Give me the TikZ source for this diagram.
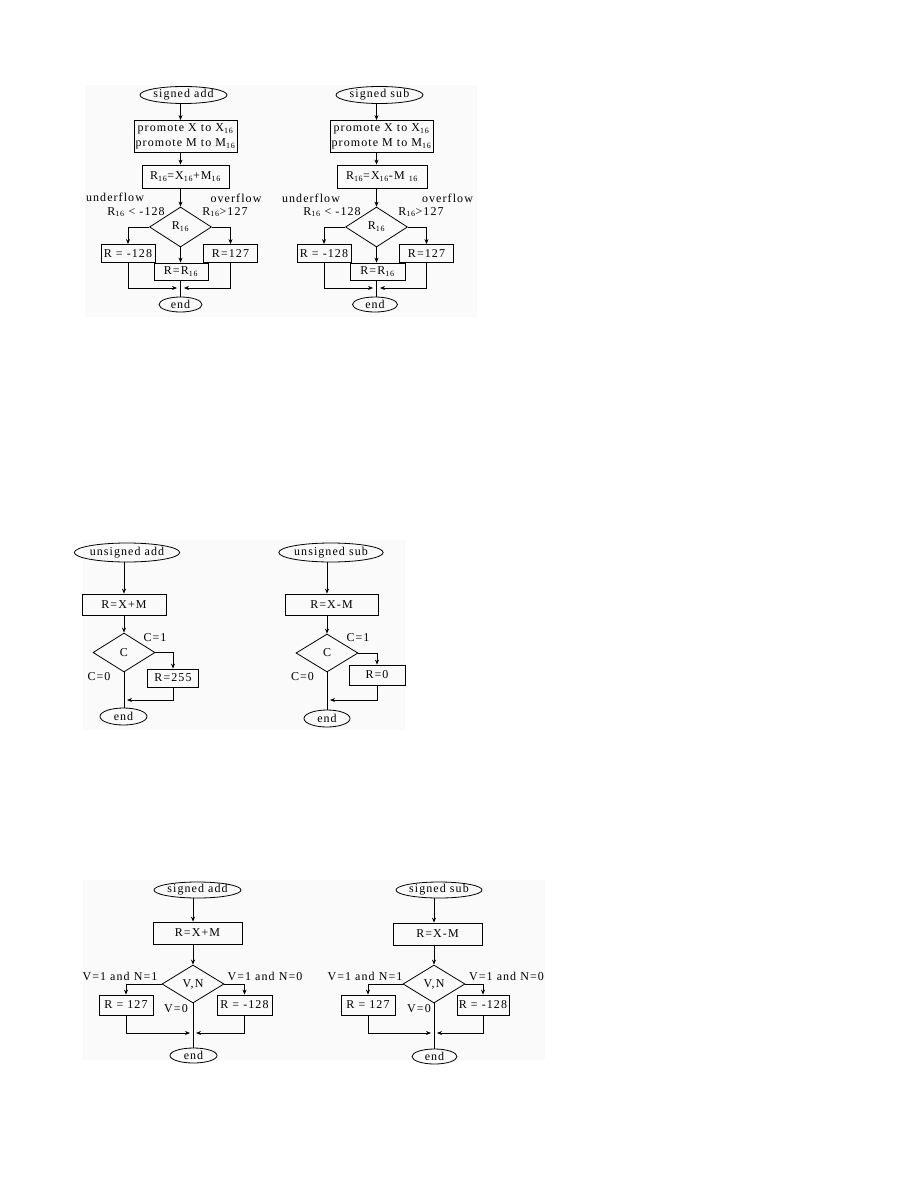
\documentclass[tikz,border=0pt]{standalone}
\usepackage{fontspec}
\setmainfont{Liberation Serif}[LetterSpace=9]
\usetikzlibrary{shapes.geometric,arrows.meta}
\begin{document}
\begin{tikzpicture}[x=1pt,y=-1pt,line width=0.8pt,
  every node/.style={font=\fontsize{12}{14.5}\selectfont, inner sep=0pt},
  term/.style={ellipse, draw},
  proc/.style={rectangle, draw, align=center},
  dec/.style={diamond, draw},
  arr/.style={-{Stealth[length=5pt,width=4pt]}},
  bg/.style={fill=black!2}]
\useasboundingbox (0,0) rectangle (918,1188);
% faint panel backgrounds
\fill[bg] (85,85) rectangle (477,317);
\fill[bg] (83,540) rectangle (405,730);
\fill[bg] (83,880) rectangle (545,1060);

% ===== Panel 1 left: signed add =====
\node[term, minimum width=87, minimum height=17] (a1s) at (183.5,95) {signed add};
\node[proc, minimum width=103, minimum height=32] (a1p) at (185.5,136.5) {promote X to X\textsubscript{16}\\promote M to M\textsubscript{16}};
\node[proc, minimum width=87, minimum height=23] (a1r) at (185.5,176.5) {R\textsubscript{16}=X\textsubscript{16}+M\textsubscript{16}};
\node[dec, minimum width=62, minimum height=40] (a1d) at (180.5,227) {R\textsubscript{16}};
\node[proc, minimum width=54, minimum height=18] (a1u) at (128,253.5) {R = -128};
\node[proc, minimum width=54, minimum height=18] (a1o) at (230.5,253.5) {R=127};
\node[proc, minimum width=54, minimum height=17] (a1m) at (181,271.5) {R=R\textsubscript{16}};
\node[term, minimum width=43, minimum height=15] (a1e) at (180.5,304.5) {end};
\node (a1l1) at (115,197) {underflow};
\node (a1l2) at (136,212) {R\textsubscript{16} < -128};
\node (a1l3) at (236,198) {overflow};
\node (a1l4) at (225,212) {R\textsubscript{16}>127};
\coordinate (a1jl) at (177,288);
\coordinate (a1jr) at (184,288);
\draw[arr] (a1d.north |- a1s.south) -- (a1d.north |- a1p.north);
\draw[arr] (a1d.north |- a1p.south) -- (a1d.north |- a1r.north);
\draw[arr] (a1d.north |- a1r.south) -- (a1d.north);
\draw[arr] (a1d.west) -| (a1u.north);
\draw[arr] (a1d.east) -| (a1o.north);
\draw[arr] (a1d.south) -- (a1d.south |- a1m.north);
\draw (a1d.south |- a1m.south) -- (a1d.south |- a1e.north);
\draw[arr] (a1u.south) |- (a1jl);
\draw[arr] (a1o.south) |- (a1jr);

% ===== Panel 1 right: signed sub =====
\node[term, minimum width=87, minimum height=17] (b1s) at (379.5,95) {signed sub};
\node[proc, minimum width=103, minimum height=32] (b1p) at (381.5,136.5) {promote X to X\textsubscript{16}\\promote M to M\textsubscript{16}};
\node[proc, minimum width=90, minimum height=23] (b1r) at (382,176.5) {R\textsubscript{16}=X\textsubscript{16}-M \textsubscript{16}};
\node[dec, minimum width=62, minimum height=40] (b1d) at (376.5,227) {R\textsubscript{16}};
\node[proc, minimum width=54, minimum height=18] (b1u) at (324,253.5) {R = -128};
\node[proc, minimum width=54, minimum height=18] (b1o) at (426.5,253.5) {R=127};
\node[proc, minimum width=55, minimum height=17] (b1m) at (377.5,271.5) {R=R\textsubscript{16}};
\node[term, minimum width=45, minimum height=15] (b1e) at (375,304.5) {end};
\node (b1l1) at (311,198) {underflow};
\node (b1l2) at (332,212) {R\textsubscript{16} < -128};
\node (b1l3) at (447.5,198) {overflow};
\node (b1l4) at (421,212) {R\textsubscript{16}>127};
\coordinate (b1jl) at (373,288);
\coordinate (b1jr) at (380,288);
\draw[arr] (b1d.north |- b1s.south) -- (b1d.north |- b1p.north);
\draw[arr] (b1d.north |- b1p.south) -- (b1d.north |- b1r.north);
\draw[arr] (b1d.north |- b1r.south) -- (b1d.north);
\draw[arr] (b1d.west) -| (b1u.north);
\draw[arr] (b1d.east) -| (b1o.north);
\draw[arr] (b1d.south) -- (b1d.south |- b1m.north);
\draw (b1d.south |- b1m.south) -- (b1d.south |- b1e.north);
\draw[arr] (b1u.south) |- (b1jl);
\draw[arr] (b1o.south) |- (b1jr);

% ===== Panel 2 left: unsigned add =====
\node[term, minimum width=86, minimum height=19] (c1s) at (127,552.5) {unsigned add};
\node[proc, minimum width=84, minimum height=21] (c1r) at (124,604.5) {R=X+M};
\node[dec, minimum width=62, minimum height=39] (c1d) at (124,652.5) {C};
\node[proc, minimum width=51, minimum height=18] (c1o) at (173,678) {R=255};
\node[term, minimum width=47, minimum height=17] (c1e) at (123.5,716.5) {end};
\node (c1l1) at (155,638) {C=1};
\node (c1l2) at (99,676.5) {C=0};
\coordinate (c1j) at (127,700);
\draw[arr] (c1d.north |- c1s.south) -- (c1d.north |- c1r.north);
\draw[arr] (c1d.north |- c1r.south) -- (c1d.north);
\draw[arr] (c1d.east) -| (c1o.north);
\draw (c1d.south) -- (c1d.south |- c1e.north);
\draw[arr] (c1o.south) |- (c1j);

% ===== Panel 2 right: unsigned sub =====
\node[term, minimum width=88, minimum height=19] (d1s) at (331,552.5) {unsigned sub};
\node[proc, minimum width=93, minimum height=21] (d1r) at (331.5,604.5) {R=X-M};
\node[dec, minimum width=62, minimum height=38] (d1d) at (327,653) {C};
\node[proc, minimum width=56, minimum height=20] (d1o) at (377,675) {R=0};
\node[term, minimum width=46, minimum height=17] (d1e) at (327,718.5) {end};
\node (d1l1) at (358,638) {C=1};
\node (d1l2) at (302.5,677) {C=0};
\coordinate (d1j) at (330,700);
\draw[arr] (d1d.north |- d1s.south) -- (d1d.north |- d1r.north);
\draw[arr] (d1d.north |- d1r.south) -- (d1d.north);
\draw[arr] (d1d.east) -| (d1o.north);
\draw (d1d.south) -- (d1d.south |- d1e.north);
\draw[arr] (d1o.south) |- (d1j);

% ===== Panel 3 left: signed add =====
\node[term, minimum width=87, minimum height=16] (e1s) at (197.5,890) {signed add};
\node[proc, minimum width=89, minimum height=22] (e1r) at (197.5,933) {R=X+M};
\node[dec, minimum width=62, minimum height=38] (e1d) at (193,984) {V,N};
\node[proc, minimum width=54, minimum height=20] (e1l) at (126,1005) {R = 127};
\node[proc, minimum width=55, minimum height=20] (e1g) at (244.5,1005) {R = -128};
\node[term, minimum width=47, minimum height=15] (e1e) at (193.5,1055.5) {end};
\node (e1l1) at (120,976) {V=1 and N=1};
\node (e1l2) at (265,976) {V=1 and N=0};
\node (e1l3) at (176,1009) {V=0};
\coordinate (e1jl) at (190,1033);
\coordinate (e1jr) at (196,1033);
\draw[arr] (e1d.north |- e1s.south) -- (e1d.north |- e1r.north);
\draw[arr] (e1d.north |- e1r.south) -- (e1d.north);
\draw[arr] (e1d.west) -| (e1l.north);
\draw[arr] (e1d.east) -| (e1g.north);
\draw (e1d.south) -- (e1d.south |- e1e.north);
\draw[arr] (e1l.south) |- (e1jl);
\draw[arr] (e1g.south) |- (e1jr);

% ===== Panel 3 right: signed sub =====
\node[term, minimum width=86, minimum height=16] (f1s) at (439,890) {signed sub};
\node[proc, minimum width=89, minimum height=22] (f1r) at (437.5,934) {R=X-M};
\node[dec, minimum width=62, minimum height=38] (f1d) at (434,984) {V,N};
\node[proc, minimum width=54, minimum height=20] (f1l) at (368,1005) {R = 127};
\node[proc, minimum width=52, minimum height=20] (f1g) at (483,1005) {R = -128};
\node[term, minimum width=45, minimum height=15] (f1e) at (434.5,1056.5) {end};
\node (f1l1) at (365,976) {V=1 and N=1};
\node (f1l2) at (506.5,976) {V=1 and N=0};
\node (f1l3) at (419,1009) {V=0};
\coordinate (f1jl) at (431,1033);
\coordinate (f1jr) at (437,1033);
\draw[arr] (f1d.north |- f1s.south) -- (f1d.north |- f1r.north);
\draw[arr] (f1d.north |- f1r.south) -- (f1d.north);
\draw[arr] (f1d.west) -| (f1l.north);
\draw[arr] (f1d.east) -| (f1g.north);
\draw (f1d.south) -- (f1d.south |- f1e.north);
\draw[arr] (f1l.south) |- (f1jl);
\draw[arr] (f1g.south) |- (f1jr);
\end{tikzpicture}
\end{document}
